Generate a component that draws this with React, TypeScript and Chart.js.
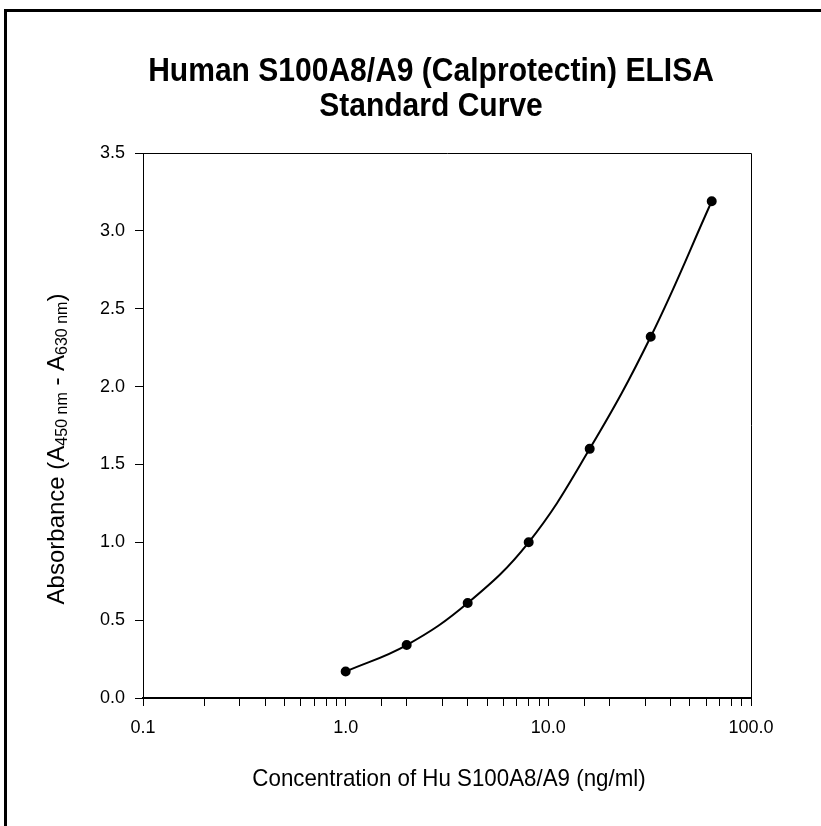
import React, { useEffect, useRef } from "react";
import { Chart, registerables } from "chart.js";

Chart.register(...registerables);

const concentrations = [1, 2, 4, 8, 16, 32, 64];
const absorbances = [0.17, 0.34, 0.61, 1.0, 1.6, 2.32, 3.19];
const titleLines = ["Human S100A8/A9 (Calprotectin) ELISA", "Standard Curve"];
const xAxisTitle = "Concentration of Hu S100A8/A9 (ng/ml)";
const yTitleParts = [
  { text: "Absorbance (A", sub: false },
  { text: "450 nm", sub: true },
  { text: " - A", sub: false },
  { text: "630 nm", sub: true },
  { text: ")", sub: false },
];
const xMajorTicks = [0.1, 1, 10, 100];

const FAMILY = "'Liberation Sans', Arial, sans-serif";

function drawScaledText(ctx: CanvasRenderingContext2D, text: string, cx: number, baseline: number, font: string, sx: number) {
  ctx.save();
  ctx.font = font;
  ctx.fillStyle = "#000";
  ctx.textAlign = "center";
  ctx.textBaseline = "alphabetic";
  ctx.translate(cx, baseline);
  ctx.scale(sx, 1);
  ctx.fillText(text, 0, 0);
  ctx.restore();
}

const decorPlugin = {
  id: "decor",
  beforeDraw(chart: any) {
    const ctx = chart.ctx;
    ctx.save();
    ctx.fillStyle = "#fff";
    ctx.fillRect(0, 0, chart.width, chart.height);
    ctx.fillStyle = "#000";
    ctx.fillRect(4, 9, 3, chart.height - 9);
    ctx.fillRect(4, 9, chart.width - 4, 3);
    ctx.restore();
  },
  afterDraw(chart: any) {
    const ctx = chart.ctx;
    const ca = chart.chartArea;
    ctx.save();
    ctx.strokeStyle = "#000";
    ctx.lineWidth = 1;
    ctx.beginPath();
    ctx.moveTo(ca.left, Math.round(ca.top) + 0.5);
    ctx.lineTo(Math.round(ca.right) + 0.5, Math.round(ca.top) + 0.5);
    ctx.lineTo(Math.round(ca.right) + 0.5, ca.bottom);
    ctx.stroke();
    ctx.restore();

    // main title (two lines)
    const titleFont = `bold 33px ${FAMILY}`;
    drawScaledText(ctx, titleLines[0], 431, 81, titleFont, 0.91);
    drawScaledText(ctx, titleLines[1], 431, 116, titleFont, 0.91);

    // x-axis title
    drawScaledText(ctx, xAxisTitle, (ca.left + ca.right) / 2 + 2, 786, `24px ${FAMILY}`, 0.93);

    // y-axis title with subscripts
    ctx.save();
    const mainFont = `24px ${FAMILY}`;
    const subFont = `16px ${FAMILY}`;
    let total = 0;
    const widths: number[] = [];
    for (const p of yTitleParts) {
      ctx.font = p.sub ? subFont : mainFont;
      const w = ctx.measureText(p.text).width;
      widths.push(w);
      total += w;
    }
    ctx.translate(64, 449);
    ctx.rotate(-Math.PI / 2);
    ctx.fillStyle = "#000";
    ctx.textBaseline = "alphabetic";
    ctx.textAlign = "left";
    let x = -total / 2;
    yTitleParts.forEach((p, i) => {
      ctx.font = p.sub ? subFont : mainFont;
      ctx.fillText(p.text, x, p.sub ? 3 : 0);
      x += widths[i];
    });
    ctx.restore();
  },
};

const isMajor = (v: number) =>
  xMajorTicks.some((m) => Math.abs(Math.log10(v) - Math.log10(m)) < 1e-6);

export default function App() {
  const canvasRef = useRef<HTMLCanvasElement | null>(null);

  useEffect(() => {
    const canvas = canvasRef.current;
    if (!canvas) return;
    const chart = new Chart(canvas, {
      type: "line",
      data: {
        datasets: [
          {
            data: concentrations.map((c, i) => ({ x: c, y: absorbances[i] })),
            borderColor: "#000",
            backgroundColor: "#000",
            borderWidth: 2,
            pointRadius: 4,
            pointBackgroundColor: "#000",
            pointBorderColor: "#000",
            tension: 0.4,
            fill: false,
          },
        ],
      },
      options: {
        responsive: false,
        animation: false,
        devicePixelRatio: 1,
        layout: { padding: { left: 93, right: 70, top: 153, bottom: 36 } },
        plugins: {
          legend: { display: false },
          tooltip: { enabled: false },
          title: { display: false },
        },
        scales: {
          x: {
            type: "logarithmic",
            min: 0.1,
            max: 100,
            position: "bottom",
            afterFit: (s: any) => {
              s.height = 92;
            },
            grid: { drawOnChartArea: false, tickLength: 8, color: "#000", tickColor: "#000" },
            border: { color: "#000", width: 2 },
            ticks: {
              autoSkip: false,
              maxRotation: 0,
              minRotation: 0,
              padding: 11,
              color: "#000",
              font: { family: FAMILY, size: 18 },
              callback: (v: any) => (isMajor(Number(v)) ? Number(v).toFixed(1) : ""),
            },
          },
          y: {
            min: 0,
            max: 3.5,
            afterFit: (s: any) => {
              s.width = 50;
            },
            grid: { drawOnChartArea: false, tickLength: 8, color: "#000", tickColor: "#000" },
            border: { color: "#000", width: 1 },
            ticks: {
              stepSize: 0.5,
              padding: 10,
              color: "#000",
              font: { family: FAMILY, size: 18 },
              callback: (v: any) => Number(v).toFixed(1),
            },
          },
        },
      },
      plugins: [decorPlugin],
    } as any);
    return () => chart.destroy();
  }, []);

  return (
    <div style={{ position: "absolute", left: 0, top: 0, width: 821, height: 826, background: "#fff" }}>
      <canvas ref={canvasRef} width={821} height={826} style={{ display: "block" }} />
    </div>
  );
}
